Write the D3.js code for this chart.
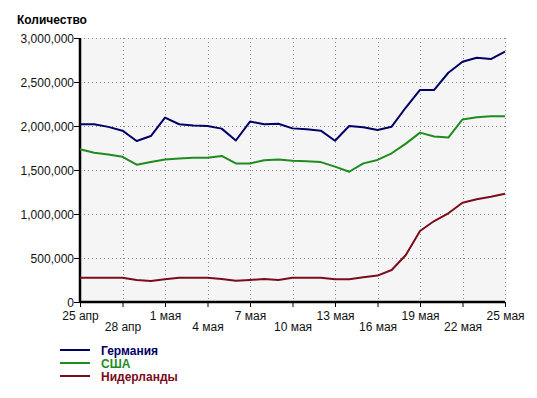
<!DOCTYPE html>
<html>
<head>
<meta charset="utf-8">
<script src="https://cdn.jsdelivr.net/npm/d3@7"></script>
<style>
  body { margin: 0; background: #fff; }
  text { font-family: Arial, "Liberation Sans", sans-serif; }
</style>
</head>
<body>
<div id="chart"></div>
<script>
// DATA
var days = ["25.04", "26.04", "27.04", "28.04", "29.04", "30.04",
            "01.05", "02.05", "03.05", "04.05", "05.05", "06.05",
            "07.05", "08.05", "09.05", "10.05", "11.05", "12.05",
            "13.05", "14.05", "15.05", "16.05", "17.05", "18.05",
            "19.05", "20.05", "21.05", "22.05", "23.05", "24.05", "25.05"];

var tickDays = ["25.04", "28.04", "01.05", "04.05", "07.05", "10.05",
                "13.05", "16.05", "19.05", "22.05", "25.05"];
var tickLabels = ["25 апр", "28 апр", "1 мая", "4 мая", "7 мая", "10 мая",
                  "13 мая", "16 мая", "19 мая", "22 мая", "25 мая"];
var yTicks = [0, 500000, 1000000, 1500000, 2000000, 2500000, 3000000];

var germany = [2020000, 2020000, 1990000, 1947000, 1830000, 1886000, 2095000,
               2020000, 2005000, 2000000, 1970000, 1835000, 2050000, 2020000,
               2025000, 1973000, 1962000, 1947000, 1833000, 2000000, 1985000,
               1955000, 1992000, 2210000, 2410000, 2410000, 2605000, 2730000,
               2775000, 2760000, 2845000];
var usa = [1735000, 1697000, 1675000, 1650000, 1560000, 1590000, 1620000,
           1630000, 1640000, 1640000, 1660000, 1575000, 1575000, 1610000,
           1620000, 1606000, 1600000, 1590000, 1538000, 1480000, 1575000,
           1614000, 1690000, 1800000, 1925000, 1880000, 1868000, 2075000,
           2100000, 2110000, 2110000];
var netherlands = [276000, 276000, 276000, 276000, 250000, 239000, 258000,
                   276000, 276000, 276000, 261000, 242000, 250000, 261000,
                   250000, 276000, 276000, 276000, 258000, 258000, 280000,
                   300000, 364000, 534000, 807000, 920000, 1008000, 1128000,
                   1167000, 1197000, 1231000];

var seriesNames = ["Германия", "США", "Нидерланды"];
var seriesColors = ["#000066", "#1e8c1e", "#7a0c1c"];
var seriesValues = [germany, usa, netherlands];

// CHART
var svgWidth = 537, svgHeight = 398;
var margins = { top: 38, left: 80, right: 32, bottom: 96 };
var width = svgWidth - margins.left - margins.right;
var height = svgHeight - margins.top - margins.bottom;

var svg = d3.select("#chart")
    .append("svg")
        .attr("width", svgWidth)
        .attr("height", svgHeight);

var g = svg.append("g")
    .attr("transform", "translate(" + margins.left + "," + margins.top + ")");

var x = d3.scalePoint()
    .domain(days)
    .range([0, width])
    .padding(0);

var y = d3.scaleLinear()
    .domain([0, 3000000])
    .range([height, 0]);

// Plot background
g.append("rect")
    .attr("x", 0)
    .attr("y", 0)
    .attr("width", width + 2)
    .attr("height", height)
    .attr("fill", "#f5f5f5");

// Grid
g.selectAll(".hgrid")
    .data(yTicks.filter(d => d > 0))
    .enter()
    .append("line")
        .attr("x1", 0)
        .attr("x2", width + 2)
        .attr("y1", d => Math.round(y(d)) + 0.5)
        .attr("y2", d => Math.round(y(d)) + 0.5)
        .attr("stroke", "#888")
        .attr("stroke-dasharray", "1,3");

g.selectAll(".vgrid")
    .data(tickDays.slice(1))
    .enter()
    .append("line")
        .attr("x1", d => Math.round(x(d)) + 0.5)
        .attr("x2", d => Math.round(x(d)) + 0.5)
        .attr("y1", 0)
        .attr("y2", height)
        .attr("stroke", "#888")
        .attr("stroke-dasharray", "1,3");

// Axes
var yAxis = g.append("g")
    .call(d3.axisLeft(y).tickValues(yTicks).tickSize(6).tickFormat(d3.format(",")));
var xAxis = g.append("g")
    .attr("transform", "translate(0," + height + ")")
    .call(d3.axisBottom(x).tickValues(tickDays).tickSize(5)
        .tickFormat((d, i) => tickLabels[i]));

[xAxis, yAxis].forEach(function(a) {
    a.select(".domain").attr("stroke", "#000").attr("stroke-width", 2.5);
    a.selectAll(".tick line").attr("stroke", "#000");
    a.selectAll(".tick text")
        .attr("fill", "#111")
        .style("font-size", "12px");
});
yAxis.select(".domain").attr("d", "M0," + (height + 1) + "V0");
xAxis.select(".domain").attr("d", "M0,0H" + width);
yAxis.selectAll(".tick text").attr("x", -6).attr("dy", "0.35em");
xAxis.selectAll(".tick text")
    .attr("y", (d, i) => i % 2 == 0 ? 9 : 20)
    .attr("dy", "0.71em");

// Lines
var line = d3.line()
    .x((d, i) => x(days[i]))
    .y(d => y(d));

seriesValues.forEach(function(vals, k) {
    g.append("path")
        .datum(vals)
        .attr("fill", "none")
        .attr("stroke", seriesColors[k])
        .attr("stroke-width", 2)
        .attr("stroke-linejoin", "round")
        .attr("d", line);
});

// Title
svg.append("text")
    .attr("x", 17)
    .attr("y", 24)
    .style("font-size", "12px")
    .style("font-weight", "bold")
    .attr("fill", "#000")
    .text("Количество");

// Legend
var legend = svg.selectAll(".legend")
    .data(seriesNames)
    .enter()
    .append("g")
        .attr("transform", (d, i) => "translate(60," + (350 + i * 13) + ")");
legend.append("line")
    .attr("x1", 0)
    .attr("x2", 30)
    .attr("stroke", (d, i) => seriesColors[i])
    .attr("stroke-width", 2);
legend.append("text")
    .attr("x", 41)
    .attr("y", 5)
    .style("font-size", "12px")
    .style("font-weight", "bold")
    .attr("fill", (d, i) => seriesColors[i])
    .text(d => d);
</script>
</body>
</html>
